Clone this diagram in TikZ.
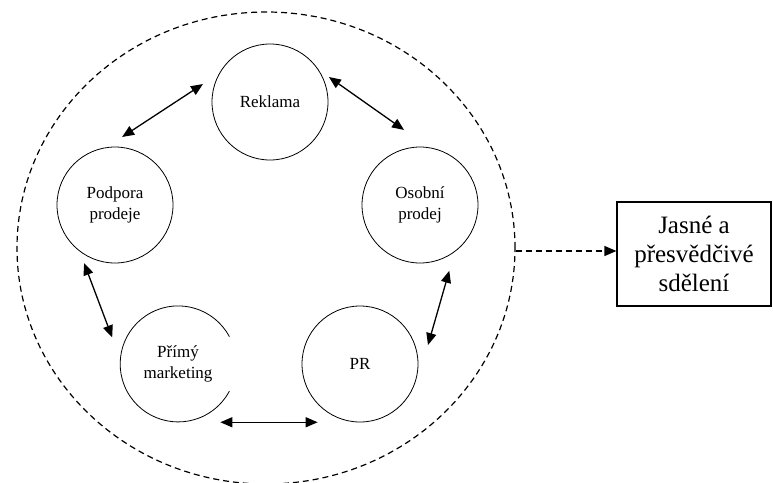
\documentclass[tikz,border=0pt]{standalone}
\usepackage{fontspec}
\setmainfont{Liberation Serif}
\usetikzlibrary{arrows.meta,shapes.geometric,calc}
\begin{document}
\begin{tikzpicture}[x=1pt,y=-1pt,
  tool/.style={circle,minimum size=116pt,inner sep=0pt,align=center,
    font=\fontsize{17}{21}\selectfont},
  toolc/.style={tool,draw,line width=0.8pt},
  tip/.tip={Triangle[length=12pt,width=10pt]},
  twoway/.style={line width=1.3pt,tip-tip},
  dsh/.style={line width=1.2pt,dash pattern=on 6pt off 4pt}]
\useasboundingbox (0,0) rectangle (773,482);
\fill[white] (0,0) rectangle (773,482);
\node[ellipse,draw,dsh,minimum width=498pt,minimum height=472pt,inner sep=0pt] (big) at (266,248) {};
\node[toolc] (rek) at (270,102) {Reklama};
\node[toolc] (pod) at (115,205) {Podpora\\prodeje};
\node[toolc] (oso) at (420,205) {Osobní\\prodej};
\node[tool] (pri) at (178,364) {Přímý\\marketing};
\draw[line width=0.8pt] (pri.28) arc[start angle=28,end angle=332,radius=58pt];
\node[toolc] (pr) at (360,364) {PR};
\node[draw,line width=1.2pt,minimum width=154pt,minimum height=104pt,inner sep=0pt,align=center,
  font=\fontsize{25}{29}\selectfont] (box) at (694,254) {Jasné a\\přesvědčivé\\sdělení};
\draw[twoway] ($(pod)+(84:68.4pt)$) -- ($(rek)+(165:69.4pt)$);
\draw[twoway] ($(rek)+(23:64pt)$) -- ($(oso)+(102:76.7pt)$);
\draw[twoway] ($(pod)+(-118:65.8pt)$) -- ($(pri)+(158:71pt)$);
\draw[twoway] ($(pri)+(-54:72pt)$) -- ($(pr)+(-126:72pt)$);
\draw[twoway] ($(oso)+(-66:72pt)$) -- ($(pr)+(15.6:70.6pt)$);
\draw[dsh,-tip] ($(big.east)+(0,3)$) -- ($(big.east -| box.west)+(0,3)$);
\end{tikzpicture}
\end{document}
